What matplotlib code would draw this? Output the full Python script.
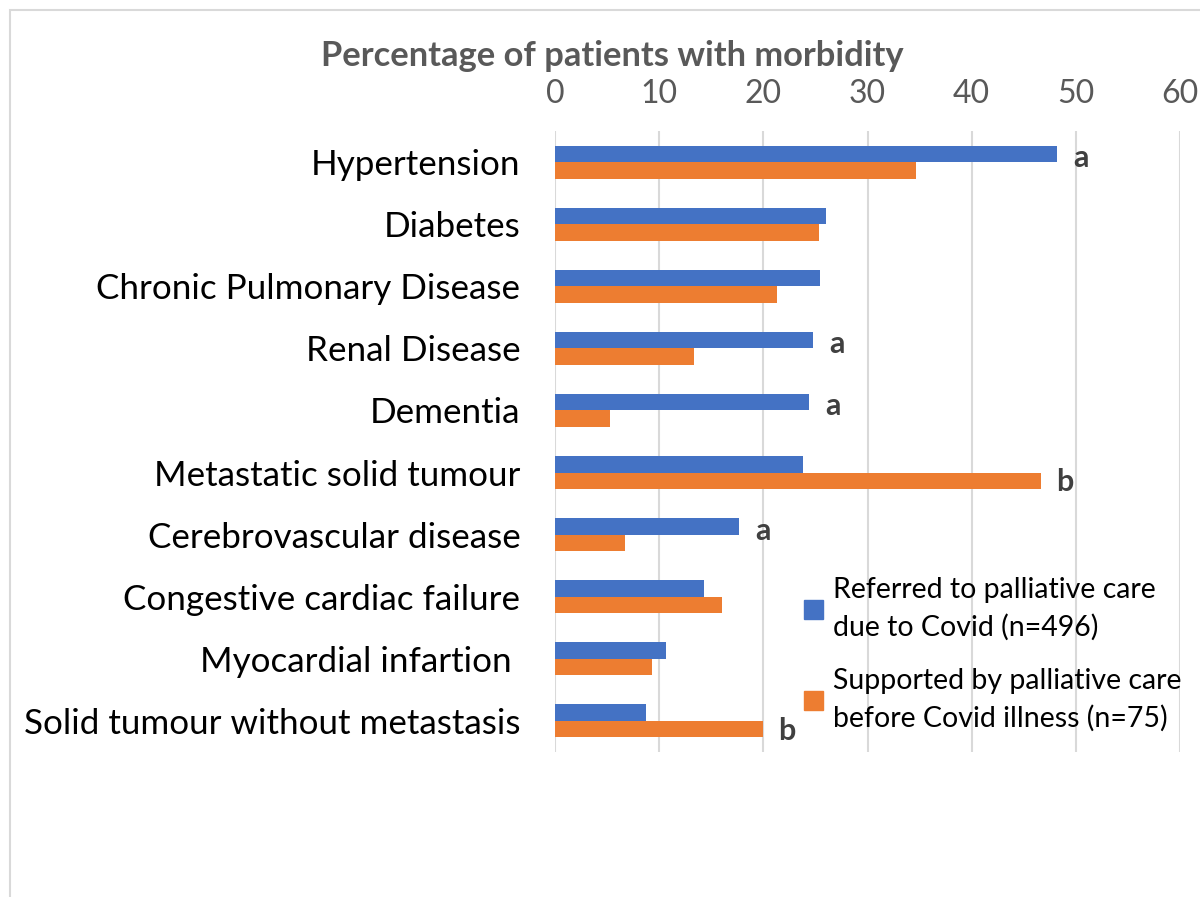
import matplotlib
matplotlib.use("Agg")
import matplotlib.pyplot as plt
from matplotlib.patches import Rectangle, Patch

plt.rcParams['font.family'] = ['Lato', 'DejaVu Sans']

categories = ["Hypertension", "Diabetes", "Chronic Pulmonary Disease", "Renal Disease",
              "Dementia", "Metastatic solid tumour", "Cerebrovascular disease",
              "Congestive cardiac failure", "Myocardial infartion ", "Solid tumour without metastasis"]
referred = [48.2, 26.0, 25.4, 24.8, 24.4, 23.8, 17.7, 14.3, 10.7, 8.7]
supported = [34.7, 25.3, 21.3, 13.3, 5.3, 46.7, 6.7, 16.0, 9.3, 20.0]
letters = ["a", "", "", "a", "a", "b", "a", "", "", "b"]
series_labels = ["Referred to palliative care\ndue to Covid (n=496)",
                 "Supported by palliative care\nbefore Covid illness (n=75)"]
title = "Percentage of patients with morbidity"
xticks = [0, 10, 20, 30, 40, 50, 60]

blue = "#4472C4"
orange = "#ED7D31"
grey = "#595959"

fig = plt.figure(figsize=(12, 8.97), dpi=100)
# outer chart frame
fig.patches.append(Rectangle((10/1200, -0.05), 1.2, (887/897) + 0.05, transform=fig.transFigure,
                             fill=False, edgecolor="#d9d9d9", linewidth=1.5))

ax = fig.add_axes([555/1200, 145/897, 625/1200, 621/897])
w = 0.266
ypos = list(range(len(categories)))
ax.barh([y - w/2 for y in ypos], referred, height=w, color=blue, label=series_labels[0], zorder=3)
ax.barh([y + w/2 for y in ypos], supported, height=w, color=orange, label=series_labels[1], zorder=3)

for y, l, r, s in zip(ypos, letters, referred, supported):
    if l == "a":
        ax.annotate(l, (r, y - w/2), xytext=(17, -3), textcoords="offset points",
                    ha="center", va="center", fontsize=22, fontweight="bold", color="#404040")
    elif l == "b":
        ax.annotate(l, (s, y + w/2), xytext=(17, -1), textcoords="offset points",
                    ha="center", va="center", fontsize=22, fontweight="bold", color="#404040")

ax.set_xlim(0, 60)
ax.set_ylim(len(categories) - 0.5, -0.5)
ax.set_xticks(xticks)
ax.xaxis.tick_top()
ax.tick_params(axis="x", length=0, pad=16, labelsize=23, labelcolor=grey)
ax.set_yticks(ypos)
ax.set_yticklabels(categories)
ax.tick_params(axis="y", length=0, pad=25, labelsize=25.2, labelcolor="black")
ax.grid(axis="x", color="#d9d9d9", linewidth=1.5, zorder=0)
for sp in ax.spines.values():
    sp.set_visible(False)

fig.text(612/1200, 1 - 56/897, title, ha="center", va="center", fontsize=24.8,
         fontweight="bold", color=grey)

handles = [Patch(color=blue), Patch(color=orange)]
leg = fig.legend(handles, series_labels, loc="upper left", bbox_to_anchor=(793/1200, 1 - 566/897),
                 frameon=False, fontsize=20.5, handlelength=0.65, handleheight=0.65,
                 handletextpad=0.35, labelspacing=0.95, borderaxespad=0)
for t in leg.get_texts():
    t.set_linespacing(1.5)

fig.savefig("out.png", dpi=100)
